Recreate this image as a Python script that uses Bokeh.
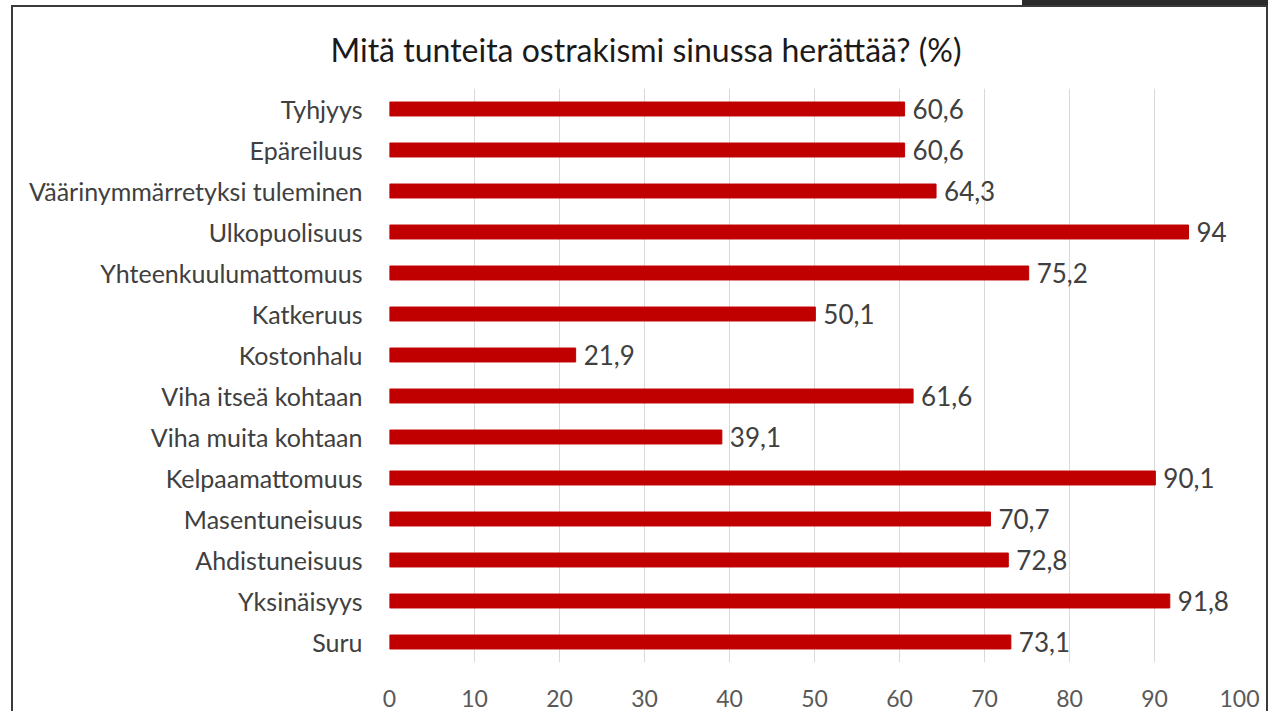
from bokeh.plotting import figure
from bokeh.models import ColumnDataSource, FactorRange, Range1d, FixedTicker, Title
from bokeh.core.properties import value
from bokeh.embed import file_html
from bokeh.resources import INLINE

categories = ["Tyhjyys", "Epäreiluus", "Väärinymmärretyksi tuleminen", "Ulkopuolisuus",
              "Yhteenkuulumattomuus", "Katkeruus", "Kostonhalu", "Viha itseä kohtaan",
              "Viha muita kohtaan", "Kelpaamattomuus", "Masentuneisuus", "Ahdistuneisuus",
              "Yksinäisyys", "Suru"]
values = [60.6, 60.6, 64.3, 94, 75.2, 50.1, 21.9, 61.6, 39.1, 90.1, 70.7, 72.8, 91.8, 73.1]
labels = [str(v).replace(".", ",") for v in values]
x_ticks = [0, 10, 20, 30, 40, 50, 60, 70, 80, 90, 100]
title_text = "Mitä tunteita ostrakismi sinussa herättää? (%)"

FONT = "Lato"
W, H = 1268, 711
ML, MR, MT, MB = 389, 29, 88, 49

src = ColumnDataSource(dict(cat=categories, val=values, lab=labels))

p = figure(width=W, height=H, output_backend="svg", toolbar_location=None,
           y_range=FactorRange(factors=categories[::-1], range_padding=0),
           x_range=Range1d(0, 100),
           min_border_left=ML, min_border_right=MR, min_border_top=MT, min_border_bottom=MB)
p.outline_line_color = None
p.background_fill_color = "white"
p.border_fill_color = None
LC = "#3a3a3a"
p.styles = {
    "background": (
        f"linear-gradient({LC},{LC}) 11px 5px / 2px calc(100% - 5px) no-repeat, "
        f"linear-gradient({LC},{LC}) 11px 5px / calc(100% - 11px) 2px no-repeat, "
        f"linear-gradient({LC},{LC}) right 0px top 5px / 2px calc(100% - 5px) no-repeat, "
        f"linear-gradient(#2b2b2b,#2b2b2b) 1022px 0px / 260px 5px no-repeat, "
        "white"
    )
}

p.add_layout(Title(text=title_text, align="left", offset=-59, standoff=40,
                   text_font=FONT, text_font_size="32px", text_color="#1a1a1a",
                   text_font_style="normal"), "above")

p.hbar(y="cat", right="val", left=0, height=0.34, source=src, color="#C00000")
p.text(x="val", y="cat", text="lab", source=src, x_offset=8,
       text_font=value(FONT), text_font_size="26px", text_color="#404040",
       text_baseline="middle", text_align="left")

p.xaxis.ticker = FixedTicker(ticks=x_ticks)
p.xaxis.axis_line_color = None
p.xaxis.major_tick_line_color = None
p.xaxis.minor_tick_line_color = None
p.xaxis.major_label_text_font = FONT
p.xaxis.major_label_text_font_size = "23px"
p.xaxis.major_label_text_color = "#595959"
p.xaxis.major_label_standoff = 21

p.yaxis.axis_line_color = None
p.yaxis.major_tick_line_color = None
p.yaxis.minor_tick_line_color = None
p.yaxis.major_label_text_font = FONT
p.yaxis.major_label_text_font_size = "25px"
p.yaxis.major_label_text_color = "#404040"
p.yaxis.major_label_standoff = 21

p.xgrid.grid_line_color = "#D9D9D9"
p.xgrid.ticker = FixedTicker(ticks=x_ticks)
p.ygrid.grid_line_color = None

open("out.html", "w").write(file_html(p, INLINE))
